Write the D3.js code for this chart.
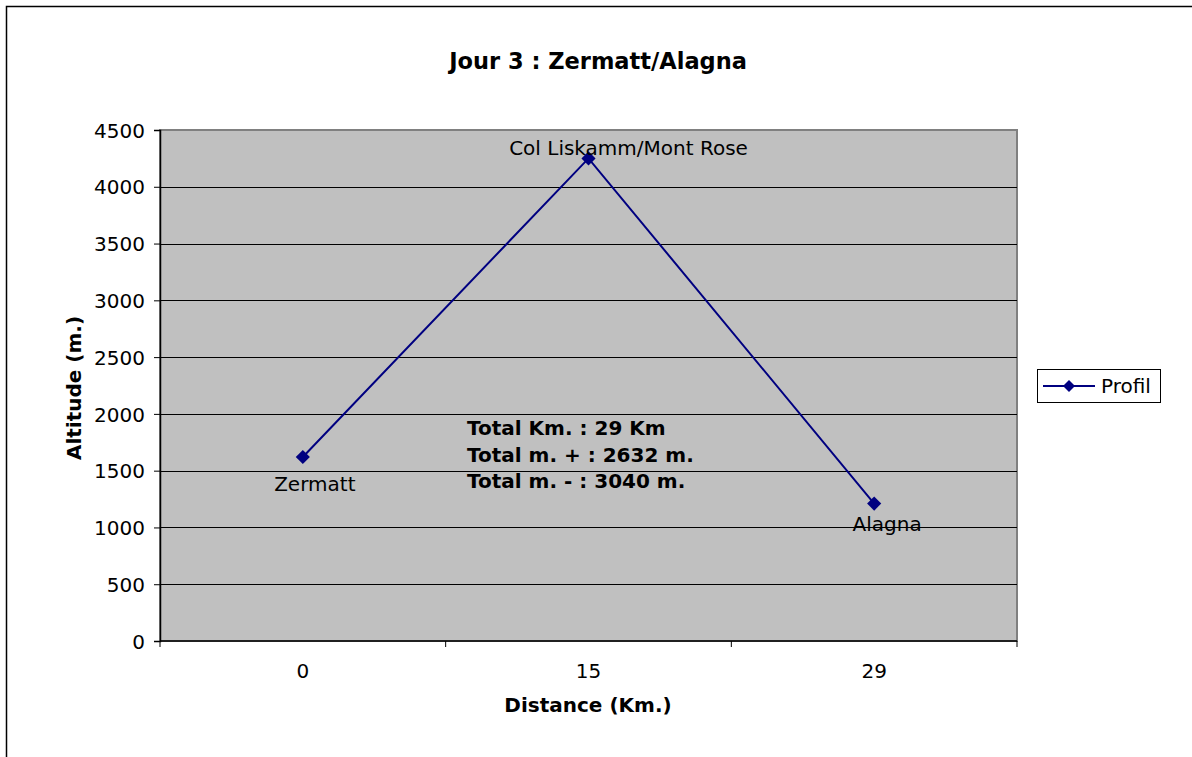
<!DOCTYPE html>
<html>
<head>
<meta charset="utf-8">
<script src="https://cdn.jsdelivr.net/npm/d3@7"></script>
<style>
  body { margin: 0; background: #fff; }
  text { font-family: "DejaVu Sans", Verdana, sans-serif; fill: #000; }
</style>
</head>
<body>
<script>
// data
var distances = ["0", "15", "29"];
var altitudes = [1620, 4250, 1210];
var places = ["Zermatt", "Col Liskamm/Mont Rose", "Alagna"];
var yTicks = [0, 500, 1000, 1500, 2000, 2500, 3000, 3500, 4000, 4500];
var notes = ["Total Km. : 29 Km", "Total m. + : 2632 m.", "Total m. - : 3040 m."];

var outWidth = 1192, outHeight = 757;
var margin = {top: 130, right: 175, bottom: 116, left: 160},
    width = outWidth - margin.left - margin.right,
    height = outHeight - margin.top - margin.bottom;

var svg = d3.select("body").append("svg")
    .attr("width", outWidth)
    .attr("height", outHeight);

// outer frame
svg.append("rect")
    .attr("x", 6.5).attr("y", 6.5)
    .attr("width", 1200).attr("height", 800)
    .attr("fill", "#fff").attr("stroke", "#000").attr("stroke-width", 1.5);

svg.append("text")
    .attr("x", 598).attr("y", 69)
    .style("text-anchor", "middle")
    .style("font-weight", "bold")
    .style("font-size", "22.5px")
    .text("Jour 3 : Zermatt/Alagna");

var xScale = d3.scaleBand().domain(distances).range([0, width]);
var yScale = d3.scaleLinear().domain([0, 4500]).range([height, 0]);

var g = svg.append("g")
    .attr("transform", "translate(" + margin.left + "," + margin.top + ")");

// plot area
g.append("rect")
    .attr("width", width).attr("height", height)
    .attr("fill", "#c0c0c0").attr("stroke", "#808080").attr("stroke-width", 2);

// gridlines
g.selectAll(".grid")
    .data(yTicks.slice(1, -1))
    .enter().append("line")
    .attr("x1", 0).attr("x2", width)
    .attr("y1", function(d) { return Math.round(yScale(d)) + 0.5; })
    .attr("y2", function(d) { return Math.round(yScale(d)) + 0.5; })
    .attr("stroke", "#000").attr("stroke-width", 1);

// y axis
var yAxis = d3.axisLeft(yScale).tickValues(yTicks).tickFormat(d3.format("d")).tickSize(6).tickPadding(9);
var yg = g.append("g").call(yAxis);
yg.select(".domain").attr("stroke", "#000").attr("stroke-width", 1.5);
yg.selectAll("text").style("font-size", "20px").attr("dy", "0.36em");

// x axis with ticks at band edges
var xg = g.append("g").attr("transform", "translate(0," + height + ")");
xg.append("line").attr("x1", 0).attr("x2", width).attr("stroke", "#000").attr("stroke-width", 1.5);
xg.selectAll(".tk")
    .data(distances.concat(["end"]))
    .enter().append("line")
    .attr("x1", function(d, i) { return i * xScale.bandwidth(); })
    .attr("x2", function(d, i) { return i * xScale.bandwidth(); })
    .attr("y1", 0).attr("y2", 6)
    .attr("stroke", "#000");
xg.selectAll(".lbl")
    .data(distances)
    .enter().append("text")
    .attr("x", function(d) { return xScale(d) + xScale.bandwidth() / 2; })
    .attr("y", 37)
    .style("text-anchor", "middle")
    .style("font-size", "20px")
    .text(function(d) { return d; });

// axis titles
svg.append("text")
    .attr("transform", "translate(81,388) rotate(-90)")
    .style("text-anchor", "middle")
    .style("font-weight", "bold")
    .style("font-size", "20px")
    .text("Altitude (m.)");
svg.append("text")
    .attr("x", 588).attr("y", 712)
    .style("text-anchor", "middle")
    .style("font-weight", "bold")
    .style("font-size", "20px")
    .text("Distance (Km.)");

// line + markers
var pts = distances.map(function(d, i) {
  return {x: xScale(d) + xScale.bandwidth() / 2, y: yScale(altitudes[i]), name: places[i]};
});
var line = d3.line().x(function(d) { return d.x; }).y(function(d) { return d.y; });
g.append("path")
    .datum(pts)
    .attr("d", line)
    .attr("fill", "none")
    .attr("stroke", "#000080")
    .attr("stroke-width", 2);

var diamond = d3.symbol().type(d3.symbolSquare).size(100);
g.selectAll(".pt")
    .data(pts)
    .enter().append("path")
    .attr("transform", function(d) { return "translate(" + d.x + "," + d.y + ") rotate(45)"; })
    .attr("d", diamond)
    .attr("fill", "#000080");

// point labels
var labelOffsets = [[12, 34], [40, -3], [13, 27]];
g.selectAll(".plbl")
    .data(pts)
    .enter().append("text")
    .attr("x", function(d, i) { return d.x + labelOffsets[i][0]; })
    .attr("y", function(d, i) { return d.y + labelOffsets[i][1]; })
    .style("text-anchor", "middle")
    .style("font-size", "20px")
    .text(function(d) { return d.name; });

// notes
svg.selectAll(".note")
    .data(notes)
    .enter().append("text")
    .attr("x", 467)
    .attr("y", function(d, i) { return 435 + i * 26.5; })
    .style("font-weight", "bold")
    .style("font-size", "20px")
    .text(function(d) { return d; });

// legend
var lg = svg.append("g").attr("transform", "translate(1037,369)");
lg.append("rect")
    .attr("x", 0.5).attr("y", 0.5)
    .attr("width", 123).attr("height", 33)
    .attr("fill", "#fff").attr("stroke", "#000");
lg.append("line")
    .attr("x1", 6).attr("x2", 58).attr("y1", 17).attr("y2", 17)
    .attr("stroke", "#000080").attr("stroke-width", 2);
lg.append("path")
    .attr("transform", "translate(32,17) rotate(45)")
    .attr("d", d3.symbol().type(d3.symbolSquare).size(72))
    .attr("fill", "#000080");
lg.append("text")
    .attr("x", 64).attr("y", 24)
    .style("font-size", "20px")
    .text("Profil");
</script>
</body>
</html>
